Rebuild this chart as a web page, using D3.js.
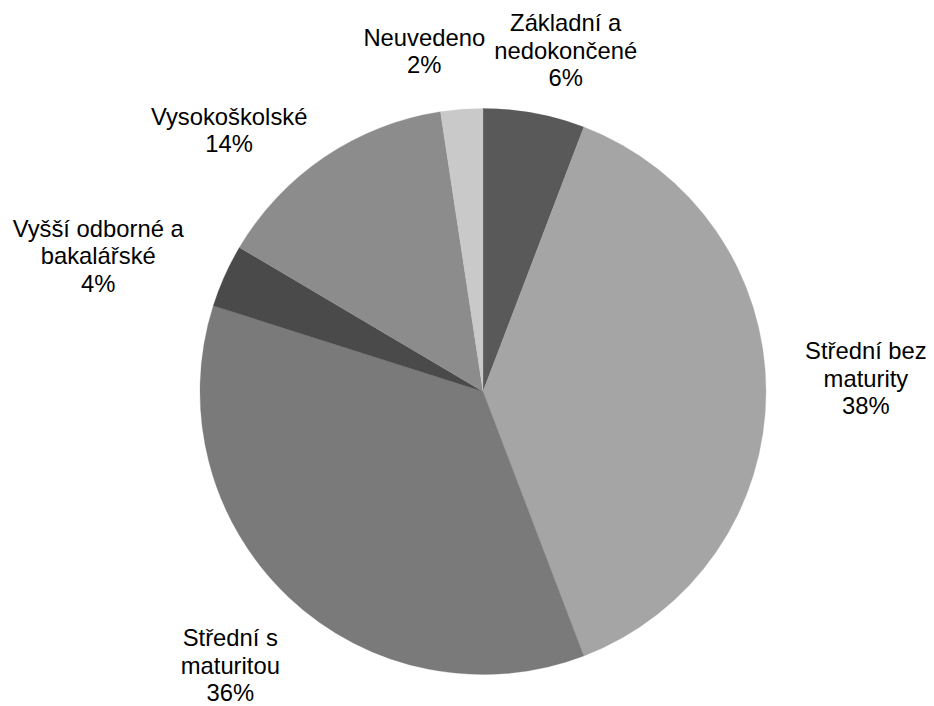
<!DOCTYPE html>
<html>
<head>
<meta charset="utf-8">
<script src="https://cdn.jsdelivr.net/npm/d3@7"></script>
<style>
  html, body { margin: 0; padding: 0; background: #fff; }
  text { font-family: "Liberation Sans", Arial, sans-serif; }
</style>
</head>
<body>
<div id="chart"></div>
<script>
// ---------------------------
// DATA
// ---------------------------
const categories = [
  "Základní a nedokončené",
  "Střední bez maturity",
  "Střední s maturitou",
  "Vyšší odborné a bakalářské",
  "Vysokoškolské",
  "Neuvedeno"
];
const shares = [5.8, 38.4, 35.7, 3.6, 14.1, 2.4];   // percent
const labelLines = [
  ["Základní a", "nedokončené"],
  ["Střední bez", "maturity"],
  ["Střední s", "maturitou"],
  ["Vyšší odborné a", "bakalářské"],
  ["Vysokoškolské"],
  ["Neuvedeno"]
];

// ---------------------------
// LAYOUT
// ---------------------------
const width = 934, height = 706;
const cx = 483, cy = 391.5, radius = 283;
const fills = ["#595959", "#a5a5a5", "#7a7a7a", "#4a4a4a", "#8c8c8c", "#c9c9c9"];
const fontSize = 23.8, lineHeight = 27.5;
// label nudges from the label arc point (Excel "best fit" placement)
const nudges = [[16, 21], [15, -13], [0, 7], [-49, 15], [-48, 44], [-31, 27]];

const svg = d3.select("#chart").append("svg")
  .attr("width", width)
  .attr("height", height);

const g = svg.append("g").attr("transform", `translate(${cx},${cy})`);

const pie = d3.pie().sort(null).value(d => d);
const arcs = pie(shares);

const arc = d3.arc().innerRadius(0).outerRadius(radius);
const labelArc = d3.arc().innerRadius(radius * 1.3).outerRadius(radius * 1.3);

// slices
g.selectAll("path.slice")
  .data(arcs)
  .join("path")
  .attr("class", "slice")
  .attr("d", arc)
  .attr("fill", (d, i) => fills[i])
  .attr("stroke", (d, i) => fills[i])
  .attr("stroke-width", 0.3);

// labels
const labels = g.selectAll("text.label")
  .data(arcs)
  .join("text")
  .attr("class", "label")
  .attr("text-anchor", "middle")
  .attr("fill", "#000")
  .style("font-size", fontSize + "px");

labels.each(function(d, i) {
  const [lx, ly] = labelArc.centroid(d);
  const x = lx + nudges[i][0];
  const y = ly + nudges[i][1];
  const lines = labelLines[i].concat([Math.round(d.value) + "%"]);
  const n = lines.length;
  d3.select(this).selectAll("tspan")
    .data(lines)
    .join("tspan")
    .attr("x", x)
    .attr("y", (t, k) => y + 8 + (k - (n - 1) / 2) * lineHeight)
    .text(t => t);
});
</script>
</body>
</html>
